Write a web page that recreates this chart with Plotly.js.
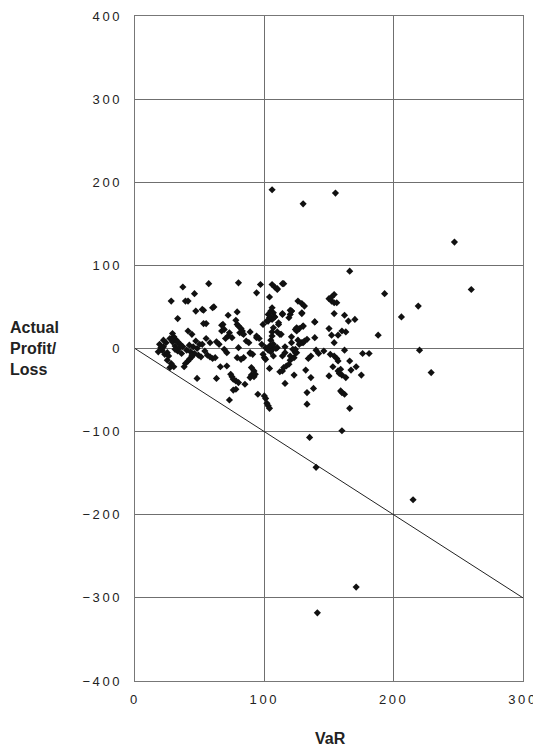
<!DOCTYPE html>
<html>
<head>
<meta charset="utf-8">
<script src="https://cdn.plot.ly/plotly-3.0.1.min.js"></script>
<style>
html,body{margin:0;padding:0;background:#fff;}
#chart{width:533px;height:750px;}
.xtick text, .ytick text {letter-spacing:2.6px;}
</style>
</head>
<body>
<div id="chart"></div>
<script>
// Daily VaR vs actual profit/loss
const varX = [
106,130,155,247,260,193,166,206,219,220,229,188,215,171,141,140,135,160,
37,46,57,28,39,41,33,47,52,60,55,72,67,53,61,79,80,94,106,110,115,104,126,129,131,106,120,114,129,104,106,108,103,119,139,111,130,127,125,97,
19,20,21,22,23,24,25,25,26,27,28,29,30,30,31,32,33,33,34,35,36,37,38,39,40,41,41,42,42,43,44,44,45,46,47,48,48,49,50,51,52,53,54,55,56,58,58,60,62,63,63,65,66,67,68,69,69,70,71,71,72,73,73,74,75,75,76,76,78,78,79,78,79,80,80,80,81,82,82,83,83,84,84,85,86,88,89,89,89,89,90,90,91,92,92,93,94,94,95,96,98,99,99,100,101,101,100,102,103,104,102,103,104,105,105,105,105,106,106,107,107,107,107,108,110,110,111,112,112,113,114,114,114,115,116,116,117,119,120,120,120,121,121,121,122,123,123,124,124,125,126,127,129,129,130,130,131,132,133,133,133,134,136,136,138,139,139,140,142,146,150,150,152,152,154,154,156,154,154,152,157,150,151,153,154,156,157,157,158,159,159,160,160,162,162,162,163,165,170,160,163,166,167,171,175,176,181,166,
108,110,114,121,104,107,103,105,124,125,101,109,116,27,31,29,36,44,22,18
];
const profitLoss = [
191,174,187,128,71,66,93,38,51,-2,-29,16,-182,-287,-318,-143,-107,-99,
74,66,78,57,57,57,36,45,47,49,30,40,28,46,50,44,79,67,77,72,78,62,57,54,51,49,46,41,42,37,35,38,33,37,32,29,27,24,21,77,
5,1,-2,2,-7,7,-5,-14,-9,-23,-18,8,-22,14,3,10,8,-3,0,5,-6,2,-22,-18,-2,-15,21,-13,4,-4,17,-10,2,-6,9,-36,0,-8,5,-10,5,30,-3,12,-8,7,-10,-12,-11,8,-36,5,-22,21,29,-1,23,12,-21,-5,15,19,-62,-31,13,-34,-37,-50,-39,-49,29,34,-11,1,27,-41,19,24,-13,18,21,17,-11,-43,9,7,-5,-6,20,-35,-23,-32,-7,-27,-34,-31,13,15,-55,12,5,29,-7,-11,1,-13,-57,-66,-69,-72,33,41,-24,3,10,45,38,15,20,43,0,-9,25,38,1,20,31,17,-28,17,42,-9,-27,-23,2,-42,-21,-19,-14,41,-9,14,45,7,-1,-32,-11,-5,23,25,10,5,43,7,7,27,9,-26,11,-53,-67,-12,-9,-35,-48,13,32,-2,-6,-3,24,60,57,62,65,55,55,42,7,16,16,-33,-7,-22,-9,-12,-15,-27,-30,-25,-51,-32,-53,-55,40,-2,-35,33,35,21,20,-15,-26,-22,-32,-6,-6,-72,
74,71,78,45,3,5,-2,-4,-1,-5,-60,0,-5,12,-1,18,3,-8,10,-4
];
// 1:1 loss boundary (P/L = -VaR)
const lineX = [0, 300];
const lineY = [0, -300];
const xTicks = [0, 100, 200, 300];
const yTicks = [-400, -300, -200, -100, 0, 100, 200, 300, 400];

const W = 533, H = 750;
const M = {l: 135, r: 10, t: 16, b: 69};
const pw = W - M.l - M.r, ph = H - M.t - M.b;
const px = v => (v - M.l) / pw;
const py = v => (H - M.b - v) / ph;

const traces = [
  {x: lineX, y: lineY, mode: 'lines', type: 'scatter',
   line: {color: '#222', width: 1}, hoverinfo: 'skip', showlegend: false},
  {x: varX, y: profitLoss, mode: 'markers', type: 'scatter',
   marker: {symbol: 'diamond', size: 5.5, color: '#111'}, showlegend: false}
];

const axisCommon = {
  showgrid: true, gridcolor: '#6f6f6f', gridwidth: 1.1,
  showline: true, mirror: true, linecolor: '#777', linewidth: 1.3,
  zeroline: false, ticks: '', tickmode: 'array', ticklabeloverflow: 'allow',
  tickfont: {family: 'Liberation Sans, Arial, sans-serif', size: 13, color: '#222'}
};

const layout = {
  width: W, height: H,
  margin: M,
  paper_bgcolor: '#fff', plot_bgcolor: '#fff',
  showlegend: false,
  xaxis: Object.assign({}, axisCommon, {range: [0, 300], tickvals: xTicks, ticktext: xTicks.map(String), ticklabelstandoff: 6}),
  yaxis: Object.assign({}, axisCommon, {range: [-400, 400], tickvals: yTicks, ticktext: yTicks.map(v => v < 0 ? '\u2212' + Math.abs(v) : String(v)), ticklabelstandoff: 9}),
  annotations: [
    {text: '<b>Actual<br>Profit/<br>Loss</b>', xref: 'paper', yref: 'paper',
     x: px(8), y: py(349), xanchor: 'left', yanchor: 'middle', align: 'left', showarrow: false,
     font: {family: 'Liberation Sans, Arial, sans-serif', size: 16, color: '#222'}},
    {text: '<b>VaR</b>', xref: 'paper', yref: 'paper',
     x: px(330), y: py(738), xanchor: 'center', yanchor: 'middle', showarrow: false,
     font: {family: 'Liberation Sans, Arial, sans-serif', size: 16, color: '#222'}}
  ]
};

Plotly.newPlot('chart', traces, layout, {displayModeBar: false, staticPlot: true});
</script>
</body>
</html>
